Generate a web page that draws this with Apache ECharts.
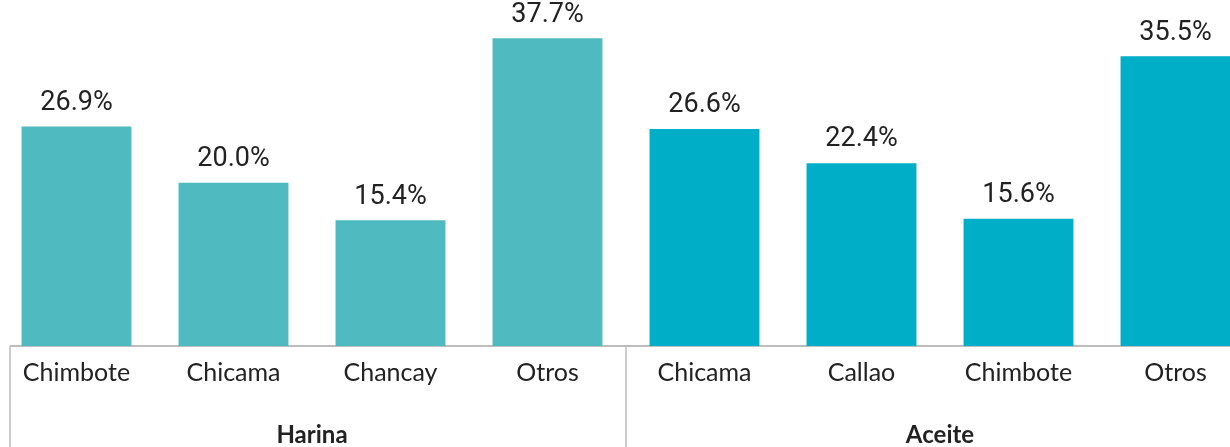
<!DOCTYPE html>
<html>
<head>
<meta charset="utf-8">
<script src="https://cdn.jsdelivr.net/npm/echarts@6/dist/echarts.min.js"></script>
<style>
  html, body { margin: 0; padding: 0; background: #fff; overflow: hidden; width: 1230px; height: 447px; }
  #chart { position: absolute; left: -2px; top: 0; width: 1256px; height: 447px; }
</style>
</head>
<body>
<div id="chart"></div>
<script>
// data
var groups = ['Harina', 'Aceite'];
var harinaPlaces = ['Chimbote', 'Chicama', 'Chancay', 'Otros'];
var harinaValues = [26.9, 20.0, 15.4, 37.7];
var aceitePlaces = ['Chicama', 'Callao', 'Chimbote', 'Otros'];
var aceiteValues = [26.6, 22.4, 15.6, 35.5];

var groupColors = ['#4FBABF', '#00AEC8'];
var gray = '#BDBDBD';

var categories = harinaPlaces.concat(aceitePlaces);
var barData = [];
harinaValues.forEach(function (v) {
  barData.push({ value: v, itemStyle: { color: groupColors[0] } });
});
aceiteValues.forEach(function (v) {
  barData.push({ value: v, itemStyle: { color: groupColors[1] } });
});

// the chart div is slightly wider than the page, like the cropped original
var chart = echarts.init(document.getElementById('chart'));
chart.setOption({
  animation: false,
  grid: { left: 0, right: 0, top: 0, bottom: 101, containLabel: false, outerBoundsMode: 'none' },
  xAxis: [{
    type: 'category',
    data: categories,
    axisLine: { show: true, lineStyle: { color: gray, width: 2 } },
    axisTick: { show: false },
    axisLabel: {
      interval: 0,
      margin: 14,
      fontFamily: 'Lato, "Noto Sans", sans-serif',
      fontSize: 25,
      color: '#222'
    }
  }, {
    type: 'category',
    data: groups,
    position: 'bottom',
    axisLine: { show: false },
    axisTick: { show: true, length: 110, lineStyle: { color: gray, width: 1.5 } },
    axisLabel: {
      interval: 0,
      margin: 77,
      fontFamily: 'Lato, "Noto Sans", sans-serif',
      fontWeight: 'bold',
      fontSize: 24,
      color: '#222'
    }
  }],
  yAxis: {
    type: 'value',
    min: 0,
    max: 42.4,
    show: false
  },
  graphic: [{
    type: 'rect',
    shape: { x: 0, y: 340, width: 12, height: 10 },
    style: { fill: '#fff' },
    z: 100
  }, {
    type: 'line',
    shape: { x1: 12, y1: 346, x2: 12, y2: 447 },
    style: { stroke: gray, lineWidth: 1.5 },
    z: 101
  }],
  series: [{
    type: 'bar',
    xAxisIndex: 0,
    barWidth: '70%',
    data: barData,
    label: {
      show: true,
      position: 'top',
      distance: 10,
      fontFamily: 'Roboto, sans-serif',
      fontSize: 27,
      color: '#222',
      formatter: function (p) { return p.value.toFixed(1) + '%'; }
    }
  }]
});
</script>
</body>
</html>
